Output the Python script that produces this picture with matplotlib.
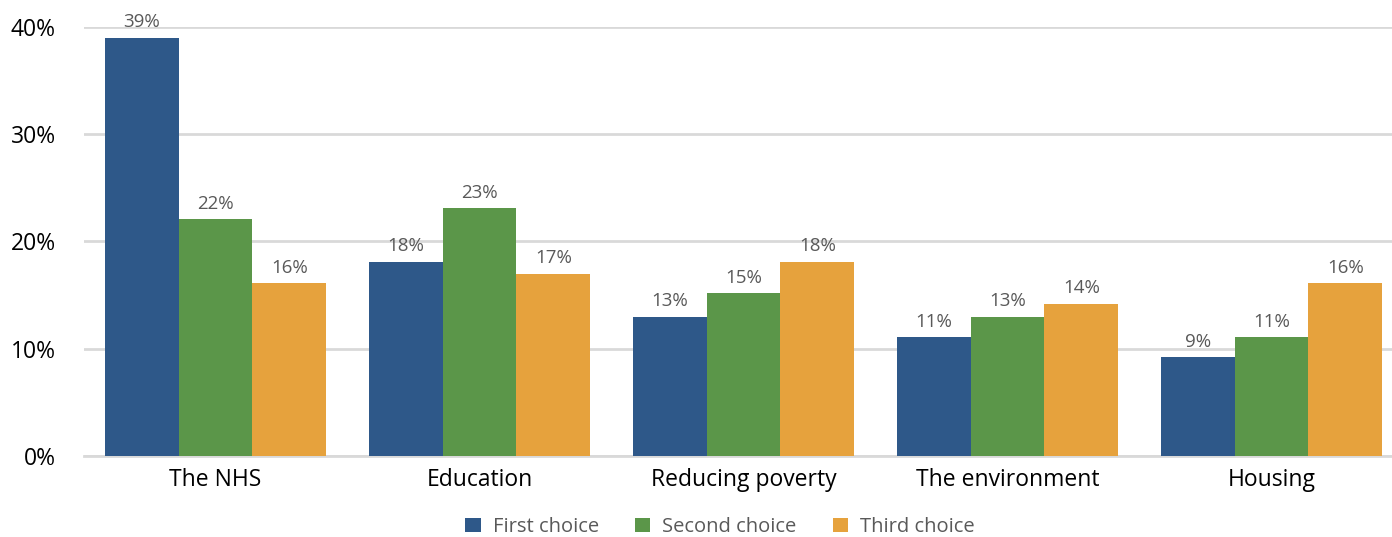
import numpy as np
import matplotlib
matplotlib.use("Agg")
from matplotlib import pyplot as plt

# data
categories = ["The NHS", "Education", "Reducing poverty", "The environment", "Housing"]
first_choice = [39.0, 18.1, 13.0, 11.1, 9.2]
second_choice = [22.1, 23.1, 15.2, 13.0, 11.1]
third_choice = [16.1, 17.0, 18.1, 14.2, 16.1]
series_names = ["First choice", "Second choice", "Third choice"]
colors = ["#2E5889", "#5B9649", "#E6A23D"]

plt.rcParams["font.family"] = ["Open Sans", "DejaVu Sans"]

fig = plt.figure(figsize=(13.92, 5.37), dpi=100)
# plot area runs a little past the right edge of the figure
ax = fig.add_axes([83.5 / 1392, 81 / 537, 1320 / 1392, 429 / 537])

x = np.arange(len(categories))
w = 0.28
series = [first_choice, second_choice, third_choice]
for i, vals in enumerate(series):
    bars = ax.bar(x + (i - 1) * w, vals, w, color=colors[i], label=series_names[i], zorder=3)
    for b, v in zip(bars, vals):
        ax.text(b.get_x() + b.get_width() / 2, v + 0.6, f"{round(v)}%",
                ha="center", va="bottom", fontsize=13.5, color="#595959", zorder=4)

ax.set_xlim(-0.5, len(categories) - 0.5)
ax.set_ylim(0, 40)
ax.set_yticks([0, 10, 20, 30, 40])
ax.set_yticklabels([f"{t}%" for t in [0, 10, 20, 30, 40]], fontsize=16.5)
ax.set_xticks(x)
ax.set_xticklabels(categories, fontsize=16.5)
ax.tick_params(axis="both", length=0, colors="black")
ax.tick_params(axis="y", pad=20)
ax.tick_params(axis="x", pad=9)

ax.grid(axis="y", color="#D9D9D9", linewidth=2, zorder=0)
for s in ["top", "right", "left"]:
    ax.spines[s].set_visible(False)
ax.spines["bottom"].set_color("#D9D9D9")
ax.spines["bottom"].set_linewidth(2)

handles, labels = ax.get_legend_handles_labels()
leg = fig.legend(handles, labels, loc="center", bbox_to_anchor=(720 / 1392, 10 / 537),
                 ncol=3, frameon=False, fontsize=14.5, handlelength=0.75, handleheight=0.75,
                 columnspacing=1.8, handletextpad=0.6, borderpad=0.1)
for t in leg.get_texts():
    t.set_color("#595959")

fig.savefig("out.png", dpi=100)
